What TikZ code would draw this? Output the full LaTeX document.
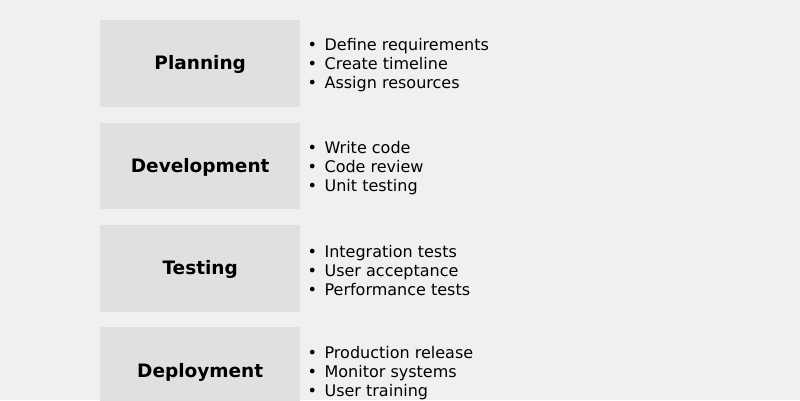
\documentclass[tikz,border=0pt]{standalone}
\usepackage{fontspec}
\setmainfont{DejaVu Sans}
\usepackage{xcolor}
\usetikzlibrary{positioning}
\definecolor{pagebg}{HTML}{F0F0F0}
\definecolor{stagefill}{HTML}{E0E0E0}
\newcommand{\taskitem}[1]{\makebox[17pt][l]{•}#1}

\begin{document}
\begin{tikzpicture}[
    x=1pt, y=1pt,
    node distance=15.5pt and 7pt,
    stage/.style={fill=stagefill, minimum width=200pt, minimum height=86.5pt, inner sep=0pt, text depth=1pt, font=\fontsize{18.5}{22}\selectfont\bfseries},
    tasks/.style={align=left, inner sep=0pt, yshift=-2pt, font=\fontsize{16}{19}\selectfont}
]
\fill[pagebg] (0,0) rectangle (800,-400);
\useasboundingbox (0,0) rectangle (800,-400);

% stages
\node[stage, anchor=north west] (plan) at (100,-20) {Planning};
\node[stage, below=of plan] (dev) {Development};
\node[stage, below=of dev] (test) {Testing};
\node[stage, below=of test] (deploy) {Deployment};

% task lists
\node[tasks, right=of plan] (plantasks) {\taskitem{Define requirements}\\\taskitem{Create timeline}\\\taskitem{Assign resources}};
\node[tasks, right=of dev] (devtasks) {\taskitem{Write code}\\\taskitem{Code review}\\\taskitem{Unit testing}};
\node[tasks, right=of test] (testtasks) {\taskitem{Integration tests}\\\taskitem{User acceptance}\\\taskitem{Performance tests}};
\node[tasks, right=of deploy] (deploytasks) {\taskitem{Production release}\\\taskitem{Monitor systems}\\\taskitem{User training}};
\end{tikzpicture}
\end{document}
